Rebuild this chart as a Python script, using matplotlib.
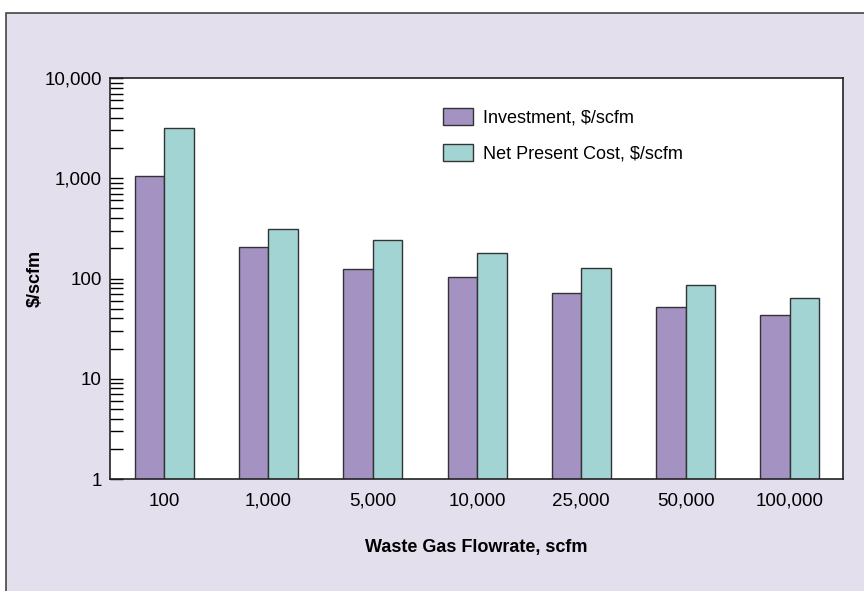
#!/usr/bin/env python3

import matplotlib.pyplot as plt
import matplotlib.ticker as mticker
from matplotlib.patches import Rectangle, Patch
import numpy as np

flowrates = ["100", "1,000", "5,000", "10,000", "25,000", "50,000", "100,000"]
investment = [1060, 205, 125, 104, 72, 52, 43]
net_present_cost = [3190, 312, 244, 181, 128, 87, 64]

PURPLE = "#a392c2"
TEAL = "#a2d4d4"
EDGE = "#333333"
PANEL = "#e3dfed"


def main():
    plt.rcParams["font.family"] = ["Liberation Sans", "DejaVu Sans"]

    fig = plt.figure(figsize=(8.64, 5.91), dpi=100)
    fig.patch.set_facecolor("white")

    # lavender panel behind the chart
    bg = Rectangle((6 / 864, -0.01), 1.0, (591 - 13) / 591 + 0.01,
                   transform=fig.transFigure, facecolor=PANEL,
                   edgecolor="#444444", linewidth=1.2, zorder=-5)
    fig.add_artist(bg)

    ax = fig.add_axes([110 / 864, (591 - 479) / 591, 733 / 864, 401 / 591])
    ax.set_zorder(5)
    ax.set_facecolor("white")

    x = np.arange(len(flowrates))
    w = 0.283
    ax.bar(x - w / 2, investment, width=w, color=PURPLE, edgecolor=EDGE,
           linewidth=1.0, zorder=2)
    ax.bar(x + w / 2, net_present_cost, width=w, color=TEAL, edgecolor=EDGE,
           linewidth=1.0, zorder=2)

    ax.set_yscale("log")
    ax.set_ylim(1, 10000)
    ax.set_xlim(-0.52, 6.51)

    ax.yaxis.set_major_locator(mticker.LogLocator(base=10, numticks=10))
    ax.yaxis.set_major_formatter(mticker.FuncFormatter(lambda v, p: f"{v:,.0f}"))
    ax.yaxis.set_minor_locator(mticker.LogLocator(base=10, subs=np.arange(2, 10), numticks=10))
    ax.yaxis.set_minor_formatter(mticker.NullFormatter())
    ax.tick_params(axis="y", which="both", direction="in", length=9, width=1.0,
                   labelsize=13.5, pad=6, colors="black")
    ax.tick_params(axis="y", which="major", length=9.5)

    ax.set_xticks(x)
    ax.set_xticklabels(flowrates)
    ax.tick_params(axis="x", length=0, labelsize=13.5, pad=10)

    for s in ax.spines.values():
        s.set_linewidth(1.2)
        s.set_color("#222222")

    ax.set_xlabel("Waste Gas Flowrate, scfm", fontsize=13, fontweight="bold", labelpad=21)
    ax.set_ylabel("\\$/scfm", fontsize=13, fontweight="bold", labelpad=0)

    handles = [Patch(facecolor=PURPLE, edgecolor=EDGE, linewidth=1.0),
               Patch(facecolor=TEAL, edgecolor=EDGE, linewidth=1.0)]
    ax.legend(handles, ["Investment, \\$/scfm", "Net Present Cost, \\$/scfm"],
              loc="upper left", bbox_to_anchor=(0.454, 0.925), frameon=False,
              fontsize=13, handlelength=1.65, handleheight=1.1,
              handletextpad=0.55, labelspacing=0.95,
              borderpad=0, borderaxespad=0)

    fig.savefig("out.png", dpi=100)


if __name__ == "__main__":
    main()
